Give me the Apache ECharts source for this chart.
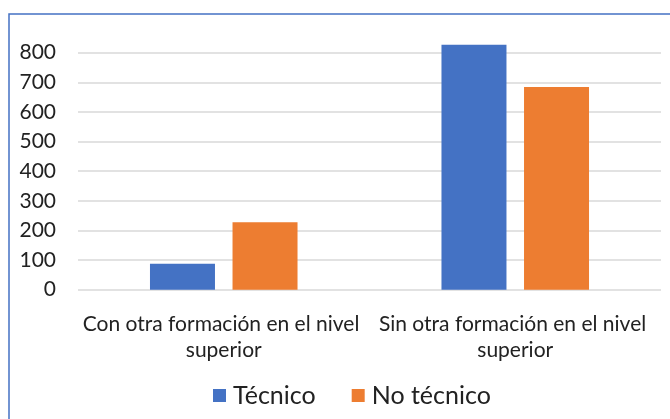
<!DOCTYPE html>
<html>
<head>
<meta charset="utf-8">
<script src="https://cdn.jsdelivr.net/npm/echarts@6/dist/echarts.min.js"></script>
<style>
  html, body { margin: 0; padding: 0; background: #fff; }
  #chart { width: 670px; height: 419px; }
</style>
</head>
<body>
<div id="chart"></div>
<script>
var categories = ['Con otra formación en el nivel superior', 'Sin otra formación en el nivel superior'];
var tecnico = [88, 827];
var noTecnico = [228, 684];
var seriesNames = ['Técnico', 'No técnico'];

var myChart = echarts.init(document.getElementById('chart'));
var font = 'Lato, "Open Sans", sans-serif';

var option = {
  animation: false,
  textStyle: { fontFamily: font },
  graphic: [{
    type: 'rect',
    shape: { x: 9, y: 14, width: 700, height: 500 },
    style: { fill: 'none', stroke: '#4472C4', lineWidth: 1.5 },
    silent: true
  }],
  legend: {
    data: seriesNames,
    bottom: 6,
    left: 208,
    itemWidth: 13,
    itemHeight: 13,
    itemGap: 36,
    icon: 'rect',
    textStyle: { fontSize: 25, color: '#222', fontFamily: font, padding: [0, 0, 0, 2] }
  },
  grid: {
    left: 78,
    right: 9,
    top: 52.7,
    bottom: 129.3
  },
  xAxis: {
    type: 'category',
    data: categories,
    axisLine: { show: false },
    axisTick: { show: false },
    axisLabel: {
      fontSize: 21,
      color: '#222',
      fontFamily: font,
      margin: 22,
      lineHeight: 26,
      width: 300,
      overflow: 'break',
      interval: 0
    }
  },
  yAxis: {
    type: 'value',
    min: 0,
    max: 800,
    interval: 100,
    axisLine: { show: false },
    axisTick: { show: false },
    axisLabel: { fontSize: 21, color: '#222', fontFamily: font, margin: 22 },
    splitLine: { lineStyle: { color: '#d9d9d9', width: 1.5 } }
  },
  series: [
    {
      name: seriesNames[0],
      type: 'bar',
      data: tecnico,
      barWidth: 65,
      barGap: '27%',
      clip: false,
      itemStyle: { color: '#4472C4' }
    },
    {
      name: seriesNames[1],
      type: 'bar',
      data: noTecnico,
      barWidth: 65,
      barGap: '27%',
      clip: false,
      itemStyle: { color: '#ED7D31' }
    }
  ]
};
myChart.setOption(option);
</script>
</body>
</html>
